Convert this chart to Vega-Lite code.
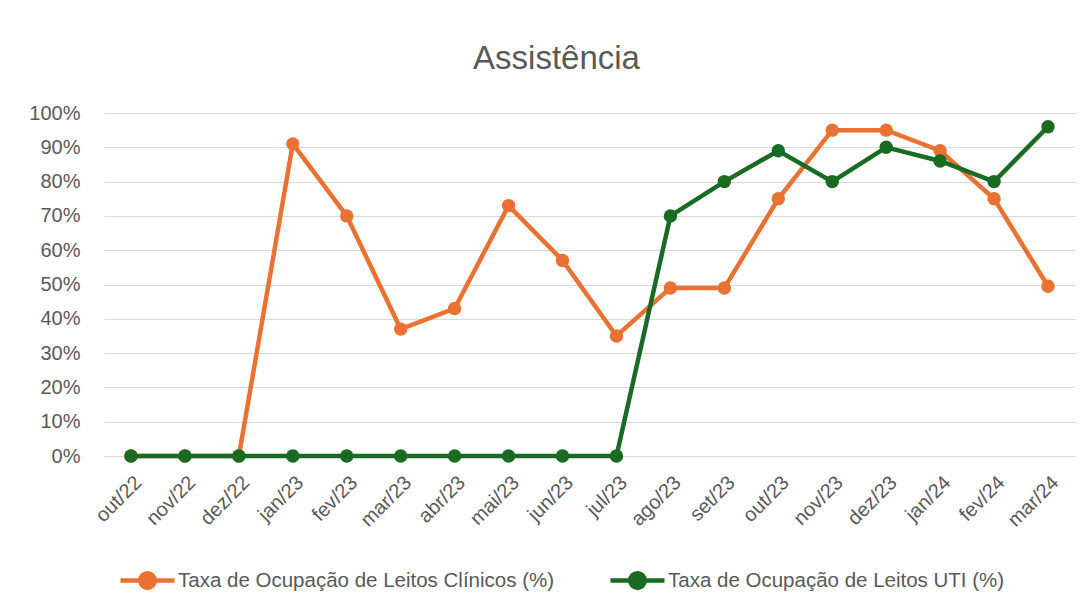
{
  "$schema": "https://vega.github.io/schema/vega-lite/v6.json",
  "autosize": "none",
  "width": 971,
  "height": 343,
  "padding": {"left": 104, "top": 113, "right": 16, "bottom": 154},
  "background": "white",
  "title": {
    "text": "Assistência",
    "fontSize": 33,
    "fontWeight": "normal",
    "font": "Liberation Sans",
    "color": "#595959",
    "anchor": "middle",
    "dx": -33,
    "offset": 27
  },
  "config": {
    "view": {"stroke": null},
    "font": "Liberation Sans"
  },
  "data": {
    "values": [
      {"mes": "out/22", "serie": "Taxa de Ocupação de Leitos Clínicos (%)", "valor": 0},
      {"mes": "nov/22", "serie": "Taxa de Ocupação de Leitos Clínicos (%)", "valor": 0},
      {"mes": "dez/22", "serie": "Taxa de Ocupação de Leitos Clínicos (%)", "valor": 0},
      {"mes": "jan/23", "serie": "Taxa de Ocupação de Leitos Clínicos (%)", "valor": 0.91},
      {"mes": "fev/23", "serie": "Taxa de Ocupação de Leitos Clínicos (%)", "valor": 0.70},
      {"mes": "mar/23", "serie": "Taxa de Ocupação de Leitos Clínicos (%)", "valor": 0.37},
      {"mes": "abr/23", "serie": "Taxa de Ocupação de Leitos Clínicos (%)", "valor": 0.43},
      {"mes": "mai/23", "serie": "Taxa de Ocupação de Leitos Clínicos (%)", "valor": 0.73},
      {"mes": "jun/23", "serie": "Taxa de Ocupação de Leitos Clínicos (%)", "valor": 0.57},
      {"mes": "jul/23", "serie": "Taxa de Ocupação de Leitos Clínicos (%)", "valor": 0.35},
      {"mes": "ago/23", "serie": "Taxa de Ocupação de Leitos Clínicos (%)", "valor": 0.49},
      {"mes": "set/23", "serie": "Taxa de Ocupação de Leitos Clínicos (%)", "valor": 0.49},
      {"mes": "out/23", "serie": "Taxa de Ocupação de Leitos Clínicos (%)", "valor": 0.75},
      {"mes": "nov/23", "serie": "Taxa de Ocupação de Leitos Clínicos (%)", "valor": 0.95},
      {"mes": "dez/23", "serie": "Taxa de Ocupação de Leitos Clínicos (%)", "valor": 0.95},
      {"mes": "jan/24", "serie": "Taxa de Ocupação de Leitos Clínicos (%)", "valor": 0.89},
      {"mes": "fev/24", "serie": "Taxa de Ocupação de Leitos Clínicos (%)", "valor": 0.75},
      {"mes": "mar/24", "serie": "Taxa de Ocupação de Leitos Clínicos (%)", "valor": 0.495},
      {"mes": "out/22", "serie": "Taxa de Ocupação de Leitos UTI (%)", "valor": 0},
      {"mes": "nov/22", "serie": "Taxa de Ocupação de Leitos UTI (%)", "valor": 0},
      {"mes": "dez/22", "serie": "Taxa de Ocupação de Leitos UTI (%)", "valor": 0},
      {"mes": "jan/23", "serie": "Taxa de Ocupação de Leitos UTI (%)", "valor": 0},
      {"mes": "fev/23", "serie": "Taxa de Ocupação de Leitos UTI (%)", "valor": 0},
      {"mes": "mar/23", "serie": "Taxa de Ocupação de Leitos UTI (%)", "valor": 0},
      {"mes": "abr/23", "serie": "Taxa de Ocupação de Leitos UTI (%)", "valor": 0},
      {"mes": "mai/23", "serie": "Taxa de Ocupação de Leitos UTI (%)", "valor": 0},
      {"mes": "jun/23", "serie": "Taxa de Ocupação de Leitos UTI (%)", "valor": 0},
      {"mes": "jul/23", "serie": "Taxa de Ocupação de Leitos UTI (%)", "valor": 0},
      {"mes": "ago/23", "serie": "Taxa de Ocupação de Leitos UTI (%)", "valor": 0.70},
      {"mes": "set/23", "serie": "Taxa de Ocupação de Leitos UTI (%)", "valor": 0.80},
      {"mes": "out/23", "serie": "Taxa de Ocupação de Leitos UTI (%)", "valor": 0.89},
      {"mes": "nov/23", "serie": "Taxa de Ocupação de Leitos UTI (%)", "valor": 0.80},
      {"mes": "dez/23", "serie": "Taxa de Ocupação de Leitos UTI (%)", "valor": 0.90},
      {"mes": "jan/24", "serie": "Taxa de Ocupação de Leitos UTI (%)", "valor": 0.86},
      {"mes": "fev/24", "serie": "Taxa de Ocupação de Leitos UTI (%)", "valor": 0.80},
      {"mes": "mar/24", "serie": "Taxa de Ocupação de Leitos UTI (%)", "valor": 0.96}
    ]
  },
  "encoding": {
    "x": {
      "field": "mes",
      "type": "ordinal",
      "sort": null,
      "scale": {"type": "point", "padding": 0.5},
      "axis": {
        "title": null,
        "labelAngle": -45,
        "labelFontSize": 20,
        "labelColor": "#595959",
        "labelPadding": 16,
        "ticks": false,
        "domain": true,
        "domainColor": "#d9d9d9",
        "grid": false
      }
    },
    "y": {
      "field": "valor",
      "type": "quantitative",
      "scale": {"domain": [0, 1], "nice": false},
      "axis": {
        "title": null,
        "format": ".0%",
        "values": [0, 0.1, 0.2, 0.3, 0.4, 0.5, 0.6, 0.7, 0.8, 0.9, 1],
        "labelFontSize": 20,
        "labelColor": "#595959",
        "labelPadding": 24,
        "ticks": false,
        "domain": false,
        "grid": true,
        "gridColor": "#d9d9d9",
        "gridWidth": 1.2
      }
    },
    "color": {
      "field": "serie",
      "type": "nominal",
      "scale": {
        "domain": ["Taxa de Ocupação de Leitos Clínicos (%)", "Taxa de Ocupação de Leitos UTI (%)"],
        "range": ["#E97132", "#196B24"]
      },
      "legend": {
        "title": null,
        "orient": "none",
        "legendX": 14,
        "legendY": 438,
        "direction": "horizontal",
        "labelFontSize": 20.5,
        "labelColor": "#595959",
        "labelLimit": 0,
        "labelOffset": 1,
        "columnPadding": 46,
        "symbolType": "M-1,0L1,0M0.27,0A0.27,0.27,0,1,1,-0.27,0A0.27,0.27,0,1,1,0.27,0Z",
        "symbolSize": 2916,
        "symbolStrokeWidth": 4.5,
        "encode": {
          "symbols": {"update": {"fill": {"scale": "color", "field": "value"}, "fillOpacity": {"value": 1}}}
        }
      }
    }
  },
  "layer": [
    {
      "transform": [{"filter": "datum.serie === 'Taxa de Ocupação de Leitos Clínicos (%)'"}],
      "mark": {"type": "line", "strokeWidth": 4.5, "point": {"filled": true, "size": 180, "opacity": 1}}
    },
    {
      "transform": [{"filter": "datum.serie === 'Taxa de Ocupação de Leitos UTI (%)'"}],
      "mark": {"type": "line", "strokeWidth": 4.5, "point": {"filled": true, "size": 180, "opacity": 1}}
    }
  ]
}
